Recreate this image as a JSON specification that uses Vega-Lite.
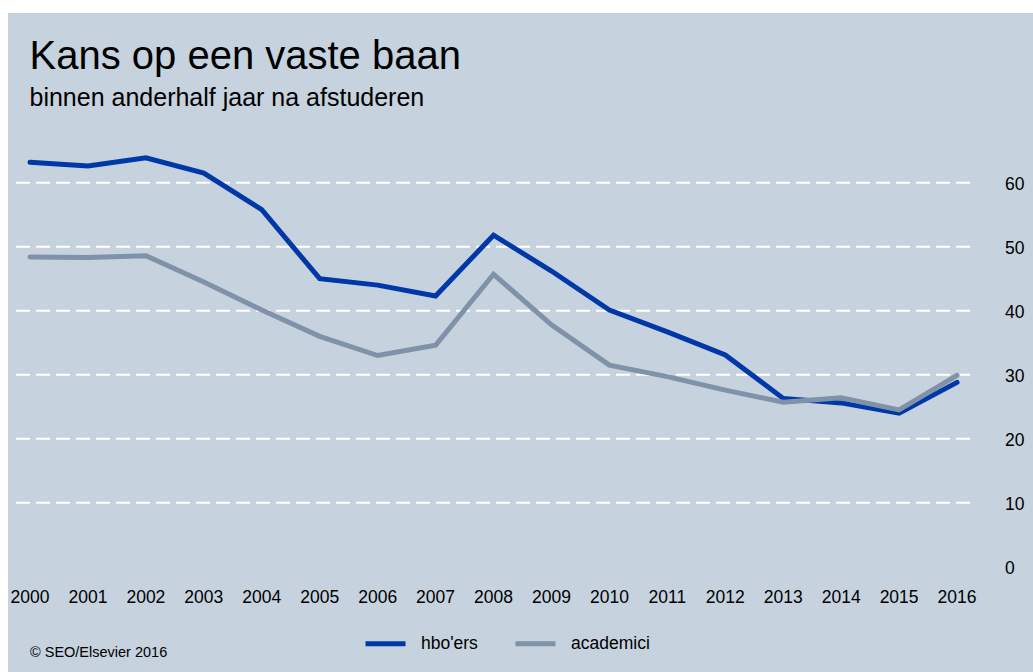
{
  "$schema": "https://vega.github.io/schema/vega-lite/v6.json",
  "width": 1025,
  "height": 659,
  "autosize": {"type": "none"},
  "padding": {"left": 8, "top": 13, "right": 0, "bottom": 0},
  "background": "white",
  "config": {"view": {"fill": "#c6d2de", "stroke": null}},
  "title": {
    "text": "Kans op een vaste baan",
    "subtitle": "binnen anderhalf jaar na afstuderen",
    "anchor": "start",
    "frame": "group",
    "orient": "top",
    "offset": -98,
    "dx": 21.5,
    "font": "Liberation Sans",
    "fontSize": 40,
    "fontWeight": "normal",
    "color": "#000000",
    "subtitleFont": "Liberation Sans",
    "subtitleFontSize": 25,
    "subtitleColor": "#000000",
    "subtitlePadding": 9
  },
  "datasets": {
    "series": [
      {"year": 2000, "serie": "hbo'ers", "value": 63.2},
      {"year": 2001, "serie": "hbo'ers", "value": 62.6},
      {"year": 2002, "serie": "hbo'ers", "value": 63.9},
      {"year": 2003, "serie": "hbo'ers", "value": 61.5},
      {"year": 2004, "serie": "hbo'ers", "value": 55.8},
      {"year": 2005, "serie": "hbo'ers", "value": 45.0},
      {"year": 2006, "serie": "hbo'ers", "value": 44.0},
      {"year": 2007, "serie": "hbo'ers", "value": 42.3},
      {"year": 2008, "serie": "hbo'ers", "value": 51.8},
      {"year": 2009, "serie": "hbo'ers", "value": 46.2},
      {"year": 2010, "serie": "hbo'ers", "value": 40.1},
      {"year": 2011, "serie": "hbo'ers", "value": 36.7},
      {"year": 2012, "serie": "hbo'ers", "value": 33.1},
      {"year": 2013, "serie": "hbo'ers", "value": 26.3},
      {"year": 2014, "serie": "hbo'ers", "value": 25.6},
      {"year": 2015, "serie": "hbo'ers", "value": 24.0},
      {"year": 2016, "serie": "hbo'ers", "value": 28.8},
      {"year": 2000, "serie": "academici", "value": 48.4},
      {"year": 2001, "serie": "academici", "value": 48.3},
      {"year": 2002, "serie": "academici", "value": 48.6},
      {"year": 2003, "serie": "academici", "value": 44.5},
      {"year": 2004, "serie": "academici", "value": 40.1},
      {"year": 2005, "serie": "academici", "value": 36.0},
      {"year": 2006, "serie": "academici", "value": 33.0},
      {"year": 2007, "serie": "academici", "value": 34.6},
      {"year": 2008, "serie": "academici", "value": 45.7},
      {"year": 2009, "serie": "academici", "value": 37.8},
      {"year": 2010, "serie": "academici", "value": 31.5},
      {"year": 2011, "serie": "academici", "value": 29.7},
      {"year": 2012, "serie": "academici", "value": 27.6},
      {"year": 2013, "serie": "academici", "value": 25.7},
      {"year": 2014, "serie": "academici", "value": 26.4},
      {"year": 2015, "serie": "academici", "value": 24.5},
      {"year": 2016, "serie": "academici", "value": 29.9}
    ],
    "grid": [
      {"value": 10}, {"value": 20}, {"value": 30}, {"value": 40}, {"value": 50}, {"value": 60}
    ]
  },
  "encoding": {
    "y": {
      "field": "value",
      "type": "quantitative",
      "scale": {"domain": [-16.45, 86.52], "nice": false, "zero": false}
    }
  },
  "layer": [
    {
      "data": {"name": "grid"},
      "mark": {"type": "rule", "stroke": "#ffffff", "strokeWidth": 2, "strokeDash": [14, 6]},
      "encoding": {
        "y": {
          "field": "value",
          "type": "quantitative",
          "scale": {"domain": [-16.45, 86.52], "nice": false, "zero": false},
          "axis": {
            "orient": "right",
            "values": [0, 10, 20, 30, 40, 50, 60],
            "offset": -28,
            "translate": 0,
            "domain": false,
            "ticks": false,
            "grid": false,
            "labelPadding": 0,
            "labelAlign": "left",
            "labelOffset": 2,
            "labelFont": "Liberation Sans",
            "labelFontSize": 17.5,
            "labelColor": "#000000",
            "labelFlush": false,
            "labelOverlap": false,
            "title": null
          }
        },
        "x": {
          "datum": 1999.758,
          "type": "quantitative",
          "scale": {"domain": [1999.62, 2017.311], "nice": false, "zero": false},
          "axis": {
            "orient": "bottom",
            "values": [2000, 2001, 2002, 2003, 2004, 2005, 2006, 2007, 2008, 2009, 2010, 2011, 2012, 2013, 2014, 2015, 2016],
            "format": "d",
            "offset": -74,
            "translate": 0,
            "domain": false,
            "ticks": false,
            "grid": false,
            "labelPadding": 0,
            "labelBaseline": "middle",
            "labelFont": "Liberation Sans",
            "labelFontSize": 17.5,
            "labelColor": "#000000",
            "labelFlush": false,
            "labelOverlap": false,
            "labelBound": false,
            "title": "© SEO/Elsevier 2016",
            "titleX": 22,
            "titleY": 55,
            "titleAlign": "left",
            "titleAnchor": "start",
            "titleBaseline": "middle",
            "titleFont": "Liberation Sans",
            "titleFontSize": 14.5,
            "titleFontWeight": "normal",
            "titleColor": "#000000"
          }
        },
        "x2": {"datum": 2016.224}
      }
    },
    {
      "data": {"name": "series"},
      "mark": {"type": "line", "strokeWidth": 5, "strokeCap": "round"},
      "encoding": {
        "x": {
          "field": "year",
          "type": "quantitative",
          "scale": {"domain": [1999.62, 2017.311], "nice": false, "zero": false}
        },
        "color": {
          "field": "serie",
          "type": "nominal",
          "scale": {"domain": ["hbo'ers", "academici"], "range": ["#0038a8", "#7f92a8"]},
          "legend": {
            "orient": "none",
            "legendX": 355,
            "legendY": 608,
            "direction": "horizontal",
            "title": null,
            "symbolType": "stroke",
            "symbolSize": 1600,
            "symbolStrokeWidth": 5,
            "labelFont": "Liberation Sans",
            "labelFontSize": 17.5,
            "labelColor": "#000000",
            "labelOffset": 13,
            "columnPadding": 27,
            "padding": 0
          }
        }
      }
    }
  ]
}
